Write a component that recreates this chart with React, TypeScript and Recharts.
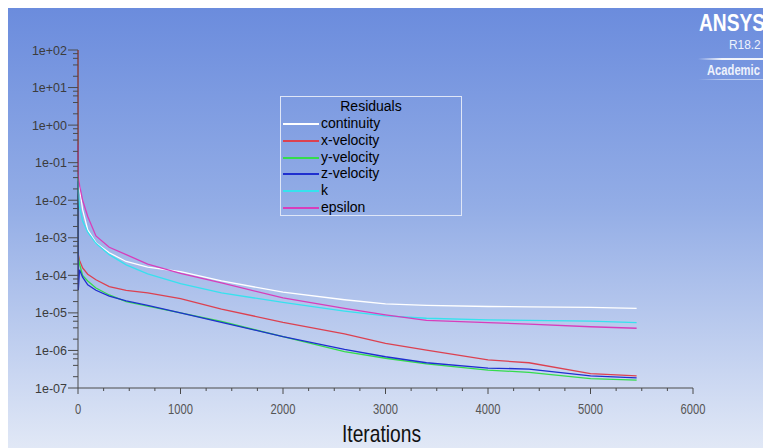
import { LineChart, Line, XAxis, YAxis } from "recharts";

// iterations
const ITERATIONS = [0, 3, 15, 45, 95, 175, 305, 470, 680, 1000, 1400, 2000, 2600, 3000, 3400, 4000, 4400, 5000, 5450];

// residuals per equation
const CONTINUITY = [1e-1, 5.0e-2, 2.24e-2, 5.6e-3, 1.62e-3, 7.4e-4, 4.0e-4, 2.34e-4, 1.66e-4, 1.26e-4, 7.1e-5, 3.55e-5, 2.24e-5, 1.74e-5, 1.58e-5, 1.48e-5, 1.45e-5, 1.41e-5, 1.32e-5];
const X_VELOCITY = [100, 3.55e-4, 2.5e-4, 1.58e-4, 1.07e-4, 7.6e-5, 5.0e-5, 4.0e-5, 3.4e-5, 2.4e-5, 1.26e-5, 5.6e-6, 2.75e-6, 1.55e-6, 1.02e-6, 5.6e-7, 4.7e-7, 2.4e-7, 2.1e-7];
const Y_VELOCITY = [4.0e-2, 3.2e-4, 2.0e-4, 1.0e-4, 7.1e-5, 4.6e-5, 3.0e-5, 2.0e-5, 1.51e-5, 1.0e-5, 5.9e-6, 2.34e-6, 9.3e-7, 6.2e-7, 4.4e-7, 3.0e-7, 2.6e-7, 1.78e-7, 1.62e-7];
const Z_VELOCITY = [3.2e-2, 4.0e-5, 1.41e-4, 8.9e-5, 5.6e-5, 4.0e-5, 2.8e-5, 2.1e-5, 1.58e-5, 1.0e-5, 5.6e-6, 2.34e-6, 1.07e-6, 6.8e-7, 4.7e-7, 3.4e-7, 3.2e-7, 2.1e-7, 1.86e-7];
const K = [5.0e-2, 1.58e-2, 6.8e-3, 2.8e-3, 1.41e-3, 7.1e-4, 3.55e-4, 1.9e-4, 1.1e-4, 6.0e-5, 3.4e-5, 1.9e-5, 1.12e-5, 8.3e-6, 7.2e-6, 6.5e-6, 6.3e-6, 6.0e-6, 5.5e-6];
const EPSILON = [3e-1, 5.0e-2, 2.5e-2, 1.0e-2, 3.7e-3, 1.12e-3, 5.6e-4, 3.55e-4, 2.0e-4, 1.12e-4, 6.3e-5, 2.5e-5, 1.32e-5, 8.9e-6, 6.3e-6, 5.5e-6, 5.0e-6, 4.27e-6, 3.9e-6];

const SERIES = [
  { key: "continuity", color: "#ffffff", values: CONTINUITY },
  { key: "x-velocity", color: "#dc4150", values: X_VELOCITY },
  { key: "y-velocity", color: "#34dc4c", values: Y_VELOCITY },
  { key: "z-velocity", color: "#1f2fcf", values: Z_VELOCITY },
  { key: "k", color: "#36e2ee", values: K },
  { key: "epsilon", color: "#d83dbb", values: EPSILON },
];

const X_TICKS = [0, 250, 500, 750, 1000, 1250, 1500, 1750, 2000, 2250, 2500, 2750, 3000, 3250, 3500, 3750, 4000, 4250, 4500, 4750, 5000, 5250, 5500, 5750, 6000];
const Y_MAJOR = [1e-7, 1e-6, 1e-5, 1e-4, 1e-3, 1e-2, 1e-1, 1e0, 1e1, 1e2];
const Y_MINOR_STEPS = [2, 4, 6, 8];

const Y_TICKS: number[] = [];
Y_MAJOR.forEach((m, i) => {
  Y_TICKS.push(m);
  if (i < Y_MAJOR.length - 1) Y_MINOR_STEPS.forEach((s) => Y_TICKS.push(m * s));
});

const data = ITERATIONS.map((it, i) => {
  const row: Record<string, number> = { iter: it };
  SERIES.forEach((s) => {
    row[s.key] = s.values[i];
  });
  return row;
});

const AXIS = "#4a4a4a";
const FONT = "'Liberation Sans', Arial, sans-serif";

function expLabel(v: number) {
  const e = Math.round(Math.log10(v));
  return `1e${e >= 0 ? "+" : "-"}${String(Math.abs(e)).padStart(2, "0")}`;
}

function YTick({ x, y, payload }: any) {
  const lg = Math.log10(payload.value);
  const major = Math.abs(lg - Math.round(lg)) < 1e-6;
  return (
    <g>
      <line x1={x - (major ? 10 : 5)} x2={x} y1={y} y2={y} stroke={AXIS} />
      {major && (
        <text x={x - 11} y={y + 4.5} textAnchor="end" fontSize={12.5} fontFamily={FONT} fill="#3c3c3c">
          {expLabel(payload.value)}
        </text>
      )}
    </g>
  );
}

function XTick({ x, y, payload }: any) {
  const major = payload.value % 1000 === 0;
  return (
    <g>
      <line x1={x} x2={x} y1={y} y2={y + (major ? 6 : 3)} stroke={AXIS} />
      {major && (
        <text
          transform={`translate(${x},${y + 26}) scale(0.8,1)`}
          textAnchor="middle"
          fontSize={14}
          fontFamily={FONT}
          fill="#555"
        >
          {payload.value}
        </text>
      )}
    </g>
  );
}

const narrow = (sx: number) => ({ transform: `scaleX(${sx})`, transformOrigin: "left top" });

export default function App() {
  return (
    <div
      style={{
        position: "relative",
        width: 763,
        height: 440,
        overflow: "hidden",
        background: "linear-gradient(180deg, #6b8cdd 0%, #93ade6 45%, #e1e8f6 100%)",
        fontFamily: FONT,
      }}
    >
      <LineChart width={763} height={440} data={data} margin={{ top: 42, right: 78, bottom: 30, left: 0 }}>
        <XAxis
          dataKey="iter"
          type="number"
          domain={[0, 6000]}
          ticks={X_TICKS}
          interval={0}
          height={30}
          tick={<XTick />}
          tickLine={false}
          tickSize={0}
          tickMargin={0}
          axisLine={{ stroke: AXIS }}
        />
        <YAxis
          scale="log"
          domain={[1e-7, 100]}
          allowDataOverflow
          ticks={Y_TICKS}
          interval={0}
          width={70}
          tick={<YTick />}
          tickLine={false}
          tickSize={0}
          tickMargin={0}
          axisLine={{ stroke: AXIS }}
        />
        {SERIES.map((s) => (
          <Line
            key={s.key}
            dataKey={s.key}
            type="linear"
            stroke={s.color}
            strokeWidth={1.3}
            dot={false}
            isAnimationActive={false}
          />
        ))}
      </LineChart>

      {/* legend box */}
      <div
        style={{
          position: "absolute",
          left: 272,
          top: 88,
          width: 180,
          height: 118,
          border: "1px solid #dfe6f7",
          fontSize: 14,
          color: "#000",
        }}
      >
        <div style={{ position: "absolute", left: 0, width: 180, top: 1, textAlign: "center", lineHeight: "17px" }}>
          Residuals
        </div>
        {SERIES.map((s, i) => (
          <div
            key={s.key}
            style={{ position: "absolute", left: 2, top: Math.round(18 + i * 16.8), height: 17, lineHeight: "17px" }}
          >
            <div
              style={{
                position: "absolute",
                left: 0,
                top: 8,
                width: 36,
                height: 2,
                background: s.color,
              }}
            />
            <span style={{ position: "absolute", left: 38, top: 0, whiteSpace: "nowrap" }}>{s.key}</span>
          </div>
        ))}
      </div>

      {/* x title */}
      <div
        style={{
          position: "absolute",
          left: 334,
          top: 413,
          fontSize: 24,
          color: "#111",
          lineHeight: "26px",
          whiteSpace: "nowrap",
          ...narrow(0.8),
        }}
      >
        Iterations
      </div>

      {/* product mark */}
      <div
        style={{
          position: "absolute",
          left: 691,
          top: 4,
          fontSize: 24,
          fontWeight: "bold",
          color: "#ffffff",
          lineHeight: "22px",
          whiteSpace: "nowrap",
          ...narrow(0.8),
        }}
      >
        ANSYS
      </div>
      <div
        style={{
          position: "absolute",
          left: 721,
          top: 30,
          fontSize: 13.5,
          color: "#eef2fc",
          lineHeight: "14px",
          whiteSpace: "nowrap",
          ...narrow(0.88),
        }}
      >
        R18.2
      </div>
      <div
        style={{
          position: "absolute",
          left: 690,
          top: 50,
          width: 80,
          height: 2,
          background: "linear-gradient(90deg, rgba(255,255,255,0), rgba(255,255,255,0.9) 30%, rgba(255,255,255,0.9))",
        }}
      />
      <div
        style={{
          position: "absolute",
          left: 699,
          top: 54,
          fontSize: 14,
          fontWeight: "bold",
          color: "#eef2fc",
          lineHeight: "16px",
          whiteSpace: "nowrap",
          ...narrow(0.8),
        }}
      >
        Academic
      </div>
      <div
        style={{
          position: "absolute",
          left: 690,
          top: 71,
          width: 80,
          height: 1,
          background: "linear-gradient(90deg, rgba(255,255,255,0), rgba(255,255,255,0.5) 30%, rgba(255,255,255,0.5))",
        }}
      />
    </div>
  );
}
